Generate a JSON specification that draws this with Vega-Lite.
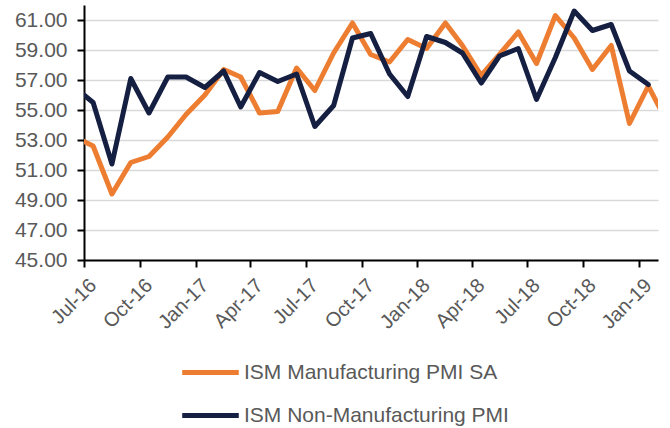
{
  "$schema": "https://vega.github.io/schema/vega-lite/v6.json",
  "autosize": "none",
  "width": 574,
  "height": 255,
  "padding": {"left": 84, "top": 5, "right": 12, "bottom": 168},
  "background": "white",
  "config": {
    "view": {"stroke": null},
    "font": "Liberation Sans"
  },
  "data": {
    "values": [
      {"date": "2016-06-16", "series": "ISM Manufacturing PMI SA", "value": 53.2},
      {"date": "2016-07-16", "series": "ISM Manufacturing PMI SA", "value": 52.6},
      {"date": "2016-08-16", "series": "ISM Manufacturing PMI SA", "value": 49.4},
      {"date": "2016-09-16", "series": "ISM Manufacturing PMI SA", "value": 51.5},
      {"date": "2016-10-16", "series": "ISM Manufacturing PMI SA", "value": 51.9},
      {"date": "2016-11-16", "series": "ISM Manufacturing PMI SA", "value": 53.2},
      {"date": "2016-12-16", "series": "ISM Manufacturing PMI SA", "value": 54.7},
      {"date": "2017-01-16", "series": "ISM Manufacturing PMI SA", "value": 56.0},
      {"date": "2017-02-16", "series": "ISM Manufacturing PMI SA", "value": 57.7},
      {"date": "2017-03-16", "series": "ISM Manufacturing PMI SA", "value": 57.2},
      {"date": "2017-04-16", "series": "ISM Manufacturing PMI SA", "value": 54.8},
      {"date": "2017-05-16", "series": "ISM Manufacturing PMI SA", "value": 54.9},
      {"date": "2017-06-16", "series": "ISM Manufacturing PMI SA", "value": 57.8},
      {"date": "2017-07-16", "series": "ISM Manufacturing PMI SA", "value": 56.3},
      {"date": "2017-08-16", "series": "ISM Manufacturing PMI SA", "value": 58.8},
      {"date": "2017-09-16", "series": "ISM Manufacturing PMI SA", "value": 60.8},
      {"date": "2017-10-16", "series": "ISM Manufacturing PMI SA", "value": 58.7},
      {"date": "2017-11-16", "series": "ISM Manufacturing PMI SA", "value": 58.2},
      {"date": "2017-12-16", "series": "ISM Manufacturing PMI SA", "value": 59.7},
      {"date": "2018-01-16", "series": "ISM Manufacturing PMI SA", "value": 59.1},
      {"date": "2018-02-16", "series": "ISM Manufacturing PMI SA", "value": 60.8},
      {"date": "2018-03-16", "series": "ISM Manufacturing PMI SA", "value": 59.3},
      {"date": "2018-04-16", "series": "ISM Manufacturing PMI SA", "value": 57.3},
      {"date": "2018-05-16", "series": "ISM Manufacturing PMI SA", "value": 58.7},
      {"date": "2018-06-16", "series": "ISM Manufacturing PMI SA", "value": 60.2},
      {"date": "2018-07-16", "series": "ISM Manufacturing PMI SA", "value": 58.1},
      {"date": "2018-08-16", "series": "ISM Manufacturing PMI SA", "value": 61.3},
      {"date": "2018-09-16", "series": "ISM Manufacturing PMI SA", "value": 59.8},
      {"date": "2018-10-16", "series": "ISM Manufacturing PMI SA", "value": 57.7},
      {"date": "2018-11-16", "series": "ISM Manufacturing PMI SA", "value": 59.3},
      {"date": "2018-12-16", "series": "ISM Manufacturing PMI SA", "value": 54.1},
      {"date": "2019-01-16", "series": "ISM Manufacturing PMI SA", "value": 56.6},
      {"date": "2019-02-16", "series": "ISM Manufacturing PMI SA", "value": 54.2},
      {"date": "2016-06-16", "series": "ISM Non-Manufacturing PMI", "value": 56.5},
      {"date": "2016-07-16", "series": "ISM Non-Manufacturing PMI", "value": 55.5},
      {"date": "2016-08-16", "series": "ISM Non-Manufacturing PMI", "value": 51.4},
      {"date": "2016-09-16", "series": "ISM Non-Manufacturing PMI", "value": 57.1},
      {"date": "2016-10-16", "series": "ISM Non-Manufacturing PMI", "value": 54.8},
      {"date": "2016-11-16", "series": "ISM Non-Manufacturing PMI", "value": 57.2},
      {"date": "2016-12-16", "series": "ISM Non-Manufacturing PMI", "value": 57.2},
      {"date": "2017-01-16", "series": "ISM Non-Manufacturing PMI", "value": 56.5},
      {"date": "2017-02-16", "series": "ISM Non-Manufacturing PMI", "value": 57.6},
      {"date": "2017-03-16", "series": "ISM Non-Manufacturing PMI", "value": 55.2},
      {"date": "2017-04-16", "series": "ISM Non-Manufacturing PMI", "value": 57.5},
      {"date": "2017-05-16", "series": "ISM Non-Manufacturing PMI", "value": 56.9},
      {"date": "2017-06-16", "series": "ISM Non-Manufacturing PMI", "value": 57.4},
      {"date": "2017-07-16", "series": "ISM Non-Manufacturing PMI", "value": 53.9},
      {"date": "2017-08-16", "series": "ISM Non-Manufacturing PMI", "value": 55.3},
      {"date": "2017-09-16", "series": "ISM Non-Manufacturing PMI", "value": 59.8},
      {"date": "2017-10-16", "series": "ISM Non-Manufacturing PMI", "value": 60.1},
      {"date": "2017-11-16", "series": "ISM Non-Manufacturing PMI", "value": 57.4},
      {"date": "2017-12-16", "series": "ISM Non-Manufacturing PMI", "value": 55.9},
      {"date": "2018-01-16", "series": "ISM Non-Manufacturing PMI", "value": 59.9},
      {"date": "2018-02-16", "series": "ISM Non-Manufacturing PMI", "value": 59.5},
      {"date": "2018-03-16", "series": "ISM Non-Manufacturing PMI", "value": 58.8},
      {"date": "2018-04-16", "series": "ISM Non-Manufacturing PMI", "value": 56.8},
      {"date": "2018-05-16", "series": "ISM Non-Manufacturing PMI", "value": 58.6},
      {"date": "2018-06-16", "series": "ISM Non-Manufacturing PMI", "value": 59.1},
      {"date": "2018-07-16", "series": "ISM Non-Manufacturing PMI", "value": 55.7},
      {"date": "2018-08-16", "series": "ISM Non-Manufacturing PMI", "value": 58.5},
      {"date": "2018-09-16", "series": "ISM Non-Manufacturing PMI", "value": 61.6},
      {"date": "2018-10-16", "series": "ISM Non-Manufacturing PMI", "value": 60.3},
      {"date": "2018-11-16", "series": "ISM Non-Manufacturing PMI", "value": 60.7},
      {"date": "2018-12-16", "series": "ISM Non-Manufacturing PMI", "value": 57.6},
      {"date": "2019-01-16", "series": "ISM Non-Manufacturing PMI", "value": 56.7}
    ]
  },
  "mark": {"type": "line", "clip": true, "strokeWidth": 5, "strokeJoin": "round", "strokeCap": "round"},
  "encoding": {
    "x": {
      "field": "date",
      "type": "temporal",
      "scale": {
        "type": "utc",
        "domain": [
          {"year": 2016, "month": 7, "date": 1, "utc": true},
          {"year": 2019, "month": 2, "date": 1, "utc": true}
        ]
      },
      "axis": {
        "title": null,
        "values": [
          {"year": 2016, "month": 7, "date": 1, "utc": true},
          {"year": 2016, "month": 10, "date": 1, "utc": true},
          {"year": 2017, "month": 1, "date": 1, "utc": true},
          {"year": 2017, "month": 4, "date": 1, "utc": true},
          {"year": 2017, "month": 7, "date": 1, "utc": true},
          {"year": 2017, "month": 10, "date": 1, "utc": true},
          {"year": 2018, "month": 1, "date": 1, "utc": true},
          {"year": 2018, "month": 4, "date": 1, "utc": true},
          {"year": 2018, "month": 7, "date": 1, "utc": true},
          {"year": 2018, "month": 10, "date": 1, "utc": true},
          {"year": 2019, "month": 1, "date": 1, "utc": true}
        ],
        "format": "%b-%y",
        "labelAngle": -45,
        "labelAlign": "right",
        "labelBaseline": "middle",
        "labelFontSize": 20,
        "labelColor": "#595959",
        "labelPadding": 15,
        "labelOffset": 9,
        "labelFlush": false,
        "labelOverlap": false,
        "grid": false,
        "domainColor": "#000000",
        "domainWidth": 2,
        "tickColor": "#000000",
        "tickWidth": 2,
        "tickSize": 7
      }
    },
    "y": {
      "field": "value",
      "type": "quantitative",
      "scale": {"domain": [45, 62], "nice": false, "zero": false},
      "axis": {
        "title": null,
        "values": [45, 47, 49, 51, 53, 55, 57, 59, 61],
        "format": ".2f",
        "labelFontSize": 21,
        "labelColor": "#595959",
        "labelPadding": 10,
        "grid": true,
        "gridColor": "#d9d9d9",
        "gridWidth": 1.5,
        "domainColor": "#000000",
        "domainWidth": 2,
        "tickColor": "#000000",
        "tickWidth": 2,
        "tickSize": 7
      }
    },
    "color": {
      "field": "series",
      "type": "nominal",
      "sort": ["ISM Manufacturing PMI SA", "ISM Non-Manufacturing PMI"],
      "scale": {
        "domain": ["ISM Manufacturing PMI SA", "ISM Non-Manufacturing PMI"],
        "range": ["#ED7D31", "#141F42"]
      },
      "legend": {
        "title": null,
        "orient": "none",
        "legendX": 116,
        "legendY": 357,
        "direction": "vertical",
        "padding": 0,
        "symbolType": "M-4,0H4",
        "symbolSize": 200,
        "symbolStrokeWidth": 5,
        "labelOffset": 23,
        "labelFontSize": 21,
        "labelColor": "#595959",
        "rowPadding": 21,
        "labelLimit": 500
      }
    }
  }
}
